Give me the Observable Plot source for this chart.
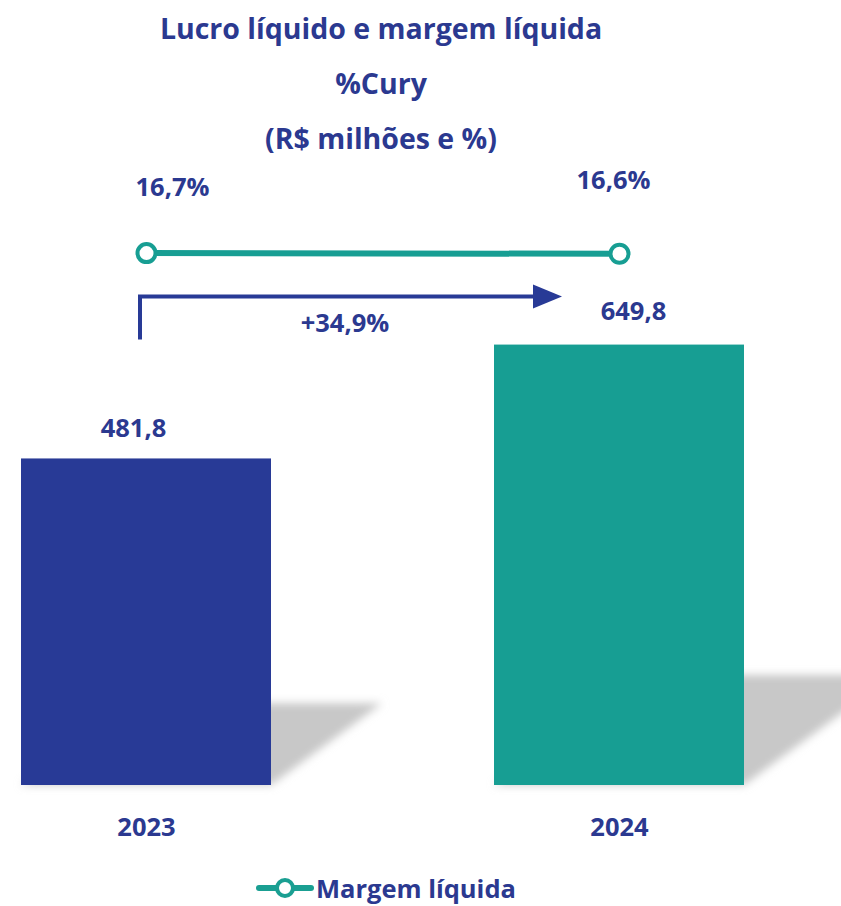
<!DOCTYPE html>
<html><head><meta charset="utf-8">
<script src="https://cdn.jsdelivr.net/npm/d3@7"></script>
<script src="https://cdn.jsdelivr.net/npm/@observablehq/plot@0.6"></script>
<style>
body{margin:0;background:#fff;font-family:"Open Sans",sans-serif;}
#title{position:absolute;left:0;top:0;width:762px;text-align:center;color:#2b3990;font-weight:700;font-size:28.5px;line-height:55px;padding-top:1px;}
#chart{position:absolute;left:0;top:140px;}
#legend{position:absolute;top:871px;left:255px;display:flex;align-items:center;color:#2b3990;font-weight:700;font-size:25.5px;}
#legend svg{margin-right:1px;}
</style></head><body>
<div id="title">Lucro líquido e margem líquida<br>%Cury<br>(R$ milhões e %)</div>
<div id="chart"></div>
<div id="legend"><svg width="60" height="34"><line x1="4" x2="56" y1="17" y2="17" stroke="#1a9f92" stroke-width="6" stroke-linecap="round"/><circle cx="30" cy="17" r="8" fill="#fff" stroke="#1a9f92" stroke-width="4"/></svg><span>Margem líquida</span></div>
<script>
const years = ["2023", "2024"];
const lucro = [481.8, 649.8];
const margem = [16.7, 16.6];
const variacao = "+34,9%";
const seriesLegend = "Margem líquida";

const blue = "#283a96", teal = "#179e93", textBlue = "#2b3990";
const fs = 25.5;
const fmt = v => v.toFixed(1).replace(".", ",");
const rows = years.map((y, i) => ({year: y, lucro: lucro[i], margem: margem[i], i}));
// secondary (margin) axis mapped onto the primary y axis
const marginToY = m => 785 + (m - 16.65) * 10;

const shadow = (index, scales) => {
  const g = d3.create("svg:g");
  g.append("defs").append("filter").attr("id", "blurShadow").attr("x", "-20%").attr("y", "-20%").attr("width", "140%").attr("height", "140%")
    .append("feGaussianBlur").attr("stdDeviation", 4);
  const bw = scales.x.bandwidth();
  rows.forEach(d => {
    const l = scales.x(d.year), r = l + bw, b = scales.y(0), h = b - scales.y(d.lucro);
    const pts = [[l, b], [r, b], [r + 0.34 * h, b - 0.25 * h], [l + 0.34 * h, b - 0.25 * h]];
    g.append("polygon").attr("points", pts.map(p => p.join(",")).join(" "))
      .attr("fill", "#c8c8c8").attr("filter", "url(#blurShadow)");
  });
  return g.node();
};

const arrow = (index, scales) => {
  const g = d3.create("svg:g");
  const bw = scales.x.bandwidth();
  const x0 = scales.x(years[0]) + bw / 2 - 6;
  const x1 = scales.x(years[1]) + 41;
  const tip = scales.x(years[1]) + 68;
  const ref = scales.y(d3.max(lucro));
  const yTop = ref - 48, yBot = ref - 5;
  g.append("path").attr("d", `M${x0},${yBot}V${yTop}H${x1}`).attr("fill", "none").attr("stroke", blue).attr("stroke-width", 4);
  g.append("path").attr("d", `M${x1 - 2},${yTop - 12}L${tip},${yTop}L${x1 - 2},${yTop + 12}Z`).attr("fill", blue);
  g.append("text").attr("x", (x0 + tip) / 2 - 6).attr("y", yTop + 29).attr("text-anchor", "middle").attr("dominant-baseline", "middle")
    .attr("fill", textBlue).attr("font-weight", 700).attr("font-size", fs).text(variacao);
  return g.node();
};

const chart = Plot.plot({
  width: 841, height: 715,
  marginLeft: 21, marginRight: 97, marginTop: 35, marginBottom: 70,
  style: {fontFamily: "Open Sans, sans-serif", background: "transparent", overflow: "visible"},
  x: {domain: years, paddingInner: 0.4715, paddingOuter: 0, axis: null},
  y: {domain: [0, 900], axis: null},
  marks: [
    shadow,
    Plot.barY(rows, {x: "year", y: "lucro", fill: (d) => d.i === 0 ? blue : teal}),
    Plot.axisX({tickSize: 0, tickPadding: 32, fontSize: fs, fontWeight: 700, fill: textBlue, label: null}),
    Plot.text(rows.filter(d => d.i === 0), {x: "year", y: "lucro", text: d => fmt(d.lucro), dx: -13, dy: -30, fill: textBlue, fontSize: fs, fontWeight: 700}),
    Plot.text(rows.filter(d => d.i === 1), {x: "year", y: "lucro", text: d => fmt(d.lucro), dx: 14, dy: -33, fill: textBlue, fontSize: fs, fontWeight: 700}),
    Plot.line(rows, {x: "year", y: d => marginToY(d.margem), stroke: teal, strokeWidth: 6}),
    Plot.dot(rows, {x: "year", y: d => marginToY(d.margem), r: 9, fill: "#fff", stroke: teal, strokeWidth: 4}),
    Plot.text(rows.filter(d => d.i === 0), {x: "year", y: d => marginToY(d.margem), text: d => fmt(d.margem) + "%", dx: 26, dy: -65, fill: textBlue, fontSize: fs, fontWeight: 700}),
    Plot.text(rows.filter(d => d.i === 1), {x: "year", y: d => marginToY(d.margem), text: d => fmt(d.margem) + "%", dx: -6, dy: -73, fill: textBlue, fontSize: fs, fontWeight: 700}),
    arrow
  ]
});
document.getElementById("chart").appendChild(chart);
</script>
</body></html>
